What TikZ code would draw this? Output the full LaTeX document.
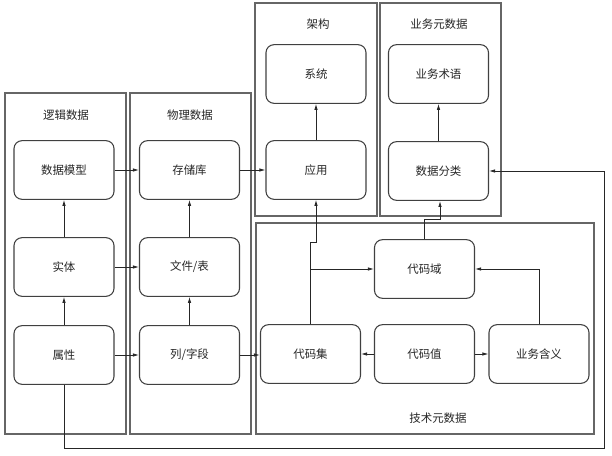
\documentclass[tikz,border=0pt]{standalone}
\usepackage{fontspec}
\newfontfamily\cjk{Noto Sans CJK SC}
\usetikzlibrary{arrows.meta,calc}
\begin{document}
\begin{tikzpicture}[x=0.75pt,y=-0.75pt,
  every node/.style={font=\cjk\fontsize{8.6}{10}\selectfont, text=black!85},
  panel/.style={draw=black!60, line width=0.8pt, rectangle, inner sep=0pt},
  titletext/.style={inner sep=1pt},
  box/.style={draw=black!75, line width=0.8pt, rounded corners=6pt, minimum width=75pt, minimum height=44pt, inner sep=0pt},
  arr/.style={draw=black!85, line width=0.6pt, -{Latex[length=4.5pt,width=2.6pt]}},
]
\useasboundingbox (0,0) rectangle (612,456);
% panels
\node[panel, minimum width=90.75pt, minimum height=255.75pt] (plog) at (65.5,263.5) {};
\node[panel, minimum width=90.75pt, minimum height=255.75pt] (pphy) at (190.5,263.5) {};
\node[panel, minimum width=91.5pt, minimum height=159.75pt] (parch) at (316,109.5) {};
\node[panel, minimum width=90.75pt, minimum height=159.75pt] (pbiz) at (440.5,109.5) {};
\node[panel, minimum width=253.5pt, minimum height=158.25pt] (ptech) at (425,328.5) {};
% titles
\node[titletext] (tlog) at (66,115) {逻辑数据};
\node[titletext] (tphy) at (190,115) {物理数据};
\node[titletext] (tarch) at (318,24) {架构};
\node[titletext] (tbiz) at (439,24) {业务元数据};
\node[titletext] (ttech) at (438,418) {技术元数据};
% boxes
\node[box] (model) at (64,170) {数据模型};
\node[box] (entity) at (64,267) {实体};
\node[box] (attr) at (64,355) {属性};
\node[box] (store) at (189.5,170) {存储库};
\node[box] (file) at (189.5,267) {文件/表};
\node[box] (col) at (189.5,355) {列/字段};
\node[box] (sys) at (316,74) {系统};
\node[box] (app) at (316,170) {应用};
\node[box] (term) at (438.5,74) {业务术语};
\node[box] (dcls) at (438.5,171) {数据分类};
\node[box] (cdom) at (424.5,269) {代码域};
\node[box] (cset) at (310.5,354) {代码集};
\node[box] (cval) at (424.5,354) {代码值};
\node[box] (bmean) at (539,354) {业务含义};
% connectors
\draw[arr] (entity) -- (model);
\draw[arr] (attr) -- (entity);
\draw[arr] (file) -- (store);
\draw[arr] (col) -- (file);
\draw[arr] (app) -- (sys);
\draw[arr] (dcls) -- (term);
\draw[arr] (model) -- (store);
\draw[arr] (entity) -- (file);
\draw[arr] (attr) -- (col);
\draw[arr] (store) -- (app);
\draw[arr] (col.east) -- (cset.west |- col.east);
\draw[arr] (cval) -- (cset);
\draw[arr] (cval) -- (bmean);
\draw[arr] (bmean.north) |- (cdom.east);
\draw[arr] (cset.north) |- (cdom.west);
\draw[arr] (cset.north) -- (cset.north |- 0,242) -- (app.south |- 0,242) -- (app.south);
\draw[arr] (cdom.north) -- (cdom.north |- 0,219) -- (440,219) -- (440,201);
\coordinate (corner) at (604,448);
\draw[arr] (attr.south) |- (corner) |- (dcls.east);
\end{tikzpicture}
\end{document}
